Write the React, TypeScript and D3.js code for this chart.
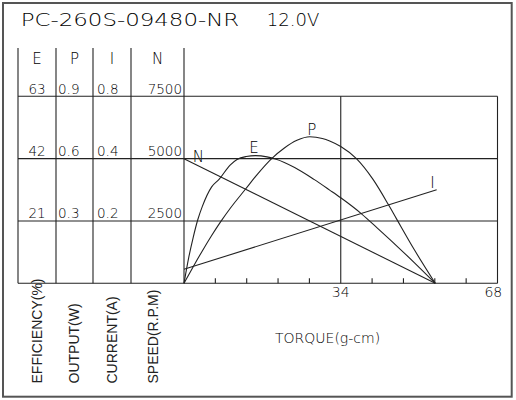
import React from "react";
import * as d3 from "d3";

// ---- data ----
const titleModel = "PC-260S-09480-NR";
const titleVoltage = "12.0V";

const columnHeaders = ["E", "P", "I", "N"];
const effTicks = ["63", "42", "21"];
const outTicks = ["0.9", "0.6", "0.3"];
const curTicks = ["0.8", "0.4", "0.2"];
const spdTicks = ["7500", "5000", "2500"];
const rowSpeeds = [7500, 5000, 2500];
const bottomLabels = ["EFFICIENCY(%)", "OUTPUT(W)", "CURRENT(A)", "SPEED(R.P.M)"];
const xTickLabels = [34, 68];
const xMinorTicks = [6.8, 13.6, 20.4, 27.2, 40.8, 47.6, 54.4, 61.2];

// Speed N (rpm) vs torque (g-cm)
const torqueN = [0, 54.5];
const speed = [5000, 0];

// Current I (A)
const torqueI = [0, 54.8];
const current = [0.045, 0.3];

// Efficiency E (%)
const torqueE = [0, 1, 2, 3, 4, 6, 7.6, 10, 11.5, 13.5, 15.5, 18, 20, 24, 28.2, 31.6, 34, 38.5, 42, 46, 50, 54.5];
const efficiency = [0, 8.5, 15.5, 21.5, 26, 32.5, 35, 39.8, 41.7, 42.7, 43.0, 42.6, 41.8, 39, 35, 31.4, 28.8, 23.4, 18.5, 12.8, 6.9, 0];

// Output P (W)
const torqueP = [0, 2, 4, 6, 8, 10, 13.4, 16, 18.9, 21.7, 24.5, 27.3, 30, 31.6, 34, 37.4, 41, 44.3, 46.1, 50, 54.5];
const output = [0, 0.08, 0.157, 0.23, 0.298, 0.36, 0.455, 0.527, 0.598, 0.65, 0.688, 0.705, 0.697, 0.685, 0.658, 0.6, 0.5, 0.38, 0.31, 0.16, 0];

// ---- layout ----
const W = 516;
const H = 400;
const plotL = 184;
const plotR = 497.5;
const plotT = 96.3;
const plotB = 283.3;
const tableTop = 48;
const colEdges = [18, 56, 93, 131, 184];
const colCenters = [37, 74.5, 112, 157.5];
const ink = "#222";
const textInk = "#000";
const font = "'DejaVu Sans', sans-serif";

export default function App() {
  const x = d3.scaleLinear().domain([0, 68]).range([plotL, plotR]);
  const yN = d3.scaleLinear().domain([0, 7500]).range([plotB, plotT]);
  const yE = d3.scaleLinear().domain([0, 63]).range([plotB, plotT]);
  const yP = d3.scaleLinear().domain([0, 0.9]).range([plotB, plotT]);
  const yI = d3.scaleLinear().domain([0, 0.6]).range([plotB, plotT]);

  const mk = (xs: number[], ys: number[], y: d3.ScaleLinear<number, number>, curve: any) =>
    d3
      .line<number>()
      .x((_, i) => x(xs[i]))
      .y((v) => y(v))
      .curve(curve)(ys) || "";

  const pathN = mk(torqueN, speed, yN, d3.curveLinear);
  const pathI = mk(torqueI, current, yI, d3.curveLinear);
  const pathE = mk(torqueE, efficiency, yE, d3.curveMonotoneX);
  const pathP = mk(torqueP, output, yP, d3.curveMonotoneX);

  const lineProps = { stroke: ink, strokeWidth: 1.1, fill: "none" };

  return (
    <svg
      width={W}
      height={H}
      viewBox={`0 0 ${W} ${H}`}
      style={{ position: "absolute", left: 0, top: 0, background: "#fff" }}
    >
      <rect x={0} y={0} width={W} height={H} fill="#fff" />
      {/* outer frame */}
      <rect x={3} y={3} width={508.7} height={393.7} fill="none" stroke="#555" strokeWidth={2} />

      <g fontWeight={200} fontFamily={font} fill={textInk}>
        {/* title */}
        <text x={20.7} y={26} fontSize={17.5} textLength={218.6} lengthAdjust="spacingAndGlyphs">
          {titleModel}
        </text>
        <text x={266.7} y={26} fontSize={17.5} textLength={52.6} lengthAdjust="spacingAndGlyphs">
          {titleVoltage}
        </text>

        {/* column headers */}
        {columnHeaders.map((h, i) => (
          <text key={"ch" + i} x={colCenters[i]} y={64} textAnchor="middle" fontSize={15}>
            {h}
          </text>
        ))}
        {/* row values */}
        {rowSpeeds.map((v, i) => (
          <g key={"rv" + i} fontSize={13.5}>
            <text x={colCenters[0]} y={yN(v) - 2.5} textAnchor="middle">
              {effTicks[i]}
            </text>
            <text x={58} y={yN(v) - 2.5}>
              {outTicks[i]}
            </text>
            <text x={97} y={yN(v) - 2.5}>
              {curTicks[i]}
            </text>
            <text x={182} y={yN(v) - 2.5} textAnchor="end">
              {spdTicks[i]}
            </text>
          </g>
        ))}

        {/* x tick labels */}
        {xTickLabels.map((t, i) => (
          <text key={"xt" + i} x={t === 68 ? x(t) - 4.2 : x(t)} y={296.5} textAnchor="middle" fontSize={14}>
            {t}
          </text>
        ))}
        <text x={275} y={342.5} fontSize={14}>
          TORQUE(g-cm)
        </text>

        {/* curve labels */}
        <g fontSize={15} textAnchor="middle">
          <text x={x(3.1)} y={yN(5000) + 3.5}>N</text>
          <text x={x(15.2)} y={yE(43) - 2.5}>E</text>
          <text x={x(27.7)} y={yP(0.705) - 1.8}>P</text>
          <text x={x(53.9)} y={yI(0.3) - 2}>I</text>
        </g>
      </g>

      {/* table verticals */}
      {colEdges.map((cx, i) => (
        <line key={"cv" + i} x1={cx} x2={cx} y1={tableTop} y2={plotB} {...lineProps} />
      ))}
      {/* horizontal grid lines */}
      {[0, ...rowSpeeds].map((v, i) => (
        <line key={"hg" + i} x1={colEdges[0]} x2={plotR} y1={yN(v)} y2={yN(v)} {...lineProps} />
      ))}
      {/* plot right edge */}
      <line x1={plotR} x2={plotR} y1={plotT} y2={plotB} {...lineProps} />
      {/* vertical at 34 */}
      <line x1={x(34)} x2={x(34)} y1={plotT} y2={plotB} {...lineProps} />
      {/* minor ticks */}
      {xMinorTicks.map((t, i) => (
        <line key={"mt" + i} x1={x(t)} x2={x(t)} y1={plotB - 5} y2={plotB} {...lineProps} />
      ))}

      {/* bottom rotated labels */}
      {bottomLabels.map((l, i) => (
        <text
          key={"bl" + i}
          transform={`translate(${[41.7, 79, 116.5, 158][i]},383.5) rotate(-90)`}
          fontFamily="'Liberation Sans Narrow', 'Liberation Sans', sans-serif"
          fontSize={14}
          fill={ink}
        >
          {l}
        </text>
      ))}

      {/* curves */}
      <path d={pathN} {...lineProps} />
      <path d={pathI} {...lineProps} />
      <path d={pathE} {...lineProps} />
      <path d={pathP} {...lineProps} />
    </svg>
  );
}
